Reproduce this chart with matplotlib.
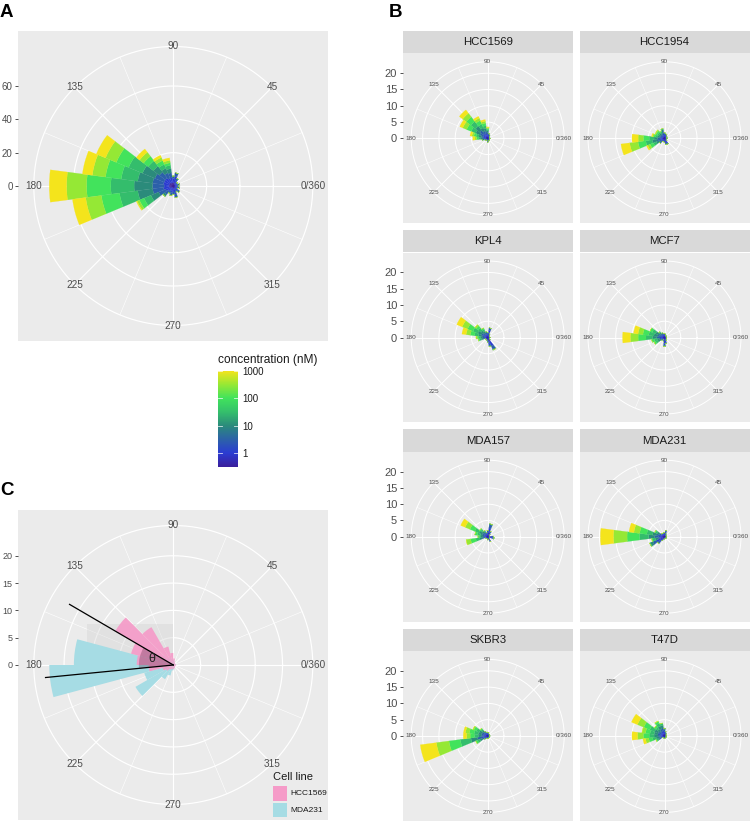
import numpy as np
import matplotlib
matplotlib.use('Agg')
import matplotlib.pyplot as plt
from matplotlib.colors import LinearSegmentedColormap, LogNorm
from matplotlib.patches import Rectangle
import matplotlib.transforms as mtransforms
from matplotlib.cm import ScalarMappable

plt.rcParams['font.family'] = ['Liberation Sans', 'DejaVu Sans']

W, H = 750, 821

# ---------------- data ----------------
CONC = [0.3, 1, 3, 10, 30, 100, 300, 1000]
BIN_CENTERS = list(range(0, 360, 15))            # panels A and B
C_BIN_CENTERS = [7.5 + 15 * k for k in range(24)]  # panel C
THETA_BREAKS = [0, 45, 90, 135, 180, 225, 270, 315]
THETA_LABELS = ['0/360', '45', '90', '135', '180', '225', '270', '315']

# Panel A: stacked counts per concentration (rows) per angle bin (cols)
A_COUNTS = [
    [1.0,1.2,1.0,1.0,1.5,2.5,2.0,2.0,2.0,2.5,2.5,2.5,2.5,2.5,2.0,1.5,1.0,1.5,1.5,2.0,1.2,1.5,1.0,1.2],
    [1.2,1.5,1.2,1.2,2.0,3.5,2.5,3.0,3.0,3.5,3.5,3.5,3.0,3.5,3.0,2.5,2.0,2.5,2.0,3.0,1.5,2.0,1.2,1.5],
    [0.8,1.3,0.8,0.8,1.5,2.0,1.5,3.0,3.5,4.5,6.0,6.5,7.0,6.5,4.5,2.5,1.5,1.5,1.5,2.0,1.3,1.5,0.8,1.3],
    [0,0,0,0,0,0,0,2.5,3.0,4.5,8.0,9.0,11.0,9.0,5.0,1.5,0.5,0.5,0,0,0,0,0,0],
    [0,0,0,0,0,0,0,2.0,2.5,4.0,9.0,10.0,14.0,11.0,4.5,0,0,0,0,0,0,0,0,0],
    [0,0,0,0,0,0,0,1.5,2.5,3.5,8.0,9.5,14.5,11.0,3.0,0,0,0,0,0,0,0,0,0],
    [0,0,0,0,0,0,0,1.5,2.0,3.0,7.0,8.0,12.0,9.5,1.5,0,0,0,0,0,0,0,0,0],
    [0,0,0,0,0,0,0,1.5,1.5,2.5,6.0,6.0,10.4,8.0,0.5,0,0,0,0,0,0,0,0,0],
]

B_NAMES = ['HCC1569', 'HCC1954', 'KPL4', 'MCF7', 'MDA157', 'MDA231', 'SKBR3', 'T47D']

HCC1569 = [
    [0.3,0.2,0.3,0.3,0.4,0.5,0.5,0.6,0.6,0.7,0.6,0.5,0.5,0.5,0.3,0.3,0.2,0.3,0.5,0.4,0.3,0.3,0.2,0.3],
    [0.3,0.2,0.2,0.3,0.5,0.6,0.7,0.8,0.8,1.0,0.8,0.7,0.6,0.6,0.4,0.3,0.2,0.3,0.4,0.4,0.2,0.3,0.2,0.2],
    [0.2,0.1,0.1,0.2,0.3,0.4,0.6,0.8,1.0,1.4,1.2,0.8,0.6,0.4,0.3,0.2,0.2,0.2,0.3,0.2,0.2,0.2,0.1,0.1],
    [0,0,0,0,0,0,0.5,0.9,1.1,1.6,1.4,0.8,0.6,0.3,0,0,0,0,0,0,0,0,0,0],
    [0,0,0,0,0,0,0.4,0.8,1.2,1.8,1.5,0.8,0.6,0,0,0,0,0,0,0,0,0,0,0],
    [0,0,0,0,0,0,0.3,0.8,1.2,1.8,1.5,0.7,0.5,0,0,0,0,0,0,0,0,0,0,0],
    [0,0,0,0,0,0,0.3,0.6,0.8,1.4,1.3,0.6,0.5,0,0,0,0,0,0,0,0,0,0,0],
    [0,0,0,0,0,0,0.2,0.5,0.6,1.3,1.0,0.6,0.7,0,0,0,0,0,0,0,0,0,0,0],
]
HCC1954 = [
    [0.4,0.3,0.3,0.4,0.5,0.5,0.5,0.6,0.4,0.4,0.4,0.4,0.5,0.6,0.5,0.5,0.4,0.4,0.5,0.7,0.8,0.4,0.3,0.3],
    [0.4,0.3,0.3,0.4,0.5,0.6,0.6,0.9,0.5,0.5,0.5,0.5,0.7,0.8,0.6,0.6,0.5,0.4,0.6,0.8,0.9,0.4,0.3,0.3],
    [0.2,0.2,0,0.2,0.3,0.3,0.4,0.8,0.5,0.5,0.5,0.6,0.9,1.0,0.7,0.5,0.3,0.2,0.3,0.4,0.3,0.2,0,0],
    [0,0,0,0,0,0,0.3,0.4,0.4,0.5,0.5,0.6,1.1,1.4,0.9,0.4,0,0,0,0,0,0,0,0],
    [0,0,0,0,0,0,0,0.3,0.4,0.5,0.5,0.6,1.5,2.0,1.0,0,0,0,0,0,0,0,0,0],
    [0,0,0,0,0,0,0,0,0.3,0.5,0.5,0.6,1.8,2.4,1.1,0,0,0,0,0,0,0,0,0],
    [0,0,0,0,0,0,0,0,0,0.4,0.3,0.4,1.6,2.6,0.8,0,0,0,0,0,0,0,0,0],
    [0,0,0,0,0,0,0,0,0,0,0,0.3,1.9,2.7,0.4,0,0,0,0,0,0,0,0,0],
]
KPL4 = [
    [0.3,0.3,0.3,0.3,0.4,1.0,0.5,0.4,0.4,0.4,0.5,0.5,0.4,0.4,0.3,0.3,0.3,0.4,0.5,0.9,1.3,0.4,0.3,0.3],
    [0.3,0.3,0.3,0.3,0.5,1.2,0.6,0.6,0.5,0.6,0.7,0.6,0.5,0.5,0.3,0.3,0.3,0.4,0.6,1.1,1.6,0.4,0.3,0.3],
    [0.2,0.1,0.1,0.2,0.3,0.8,0.4,0.5,0.6,0.8,0.9,0.8,0.6,0.5,0.2,0.2,0.2,0.2,0.3,0.6,1.0,0.2,0.1,0.1],
    [0,0,0,0,0,0,0,0.3,0.6,0.9,1.2,1.0,0.6,0.6,0,0,0,0,0,0.2,0.3,0,0,0],
    [0,0,0,0,0,0,0,0,0.6,1.0,1.6,1.2,0.6,0.6,0,0,0,0,0,0,0,0,0,0],
    [0,0,0,0,0,0,0,0,0.5,0.8,1.8,1.3,0.5,0.4,0,0,0,0,0,0,0,0,0,0],
    [0,0,0,0,0,0,0,0,0,0.5,1.8,1.3,0.4,0,0,0,0,0,0,0,0,0,0,0],
    [0,0,0,0,0,0,0,0,0,0,1.8,1.3,0,0,0,0,0,0,0,0,0,0,0,0],
]
MCF7 = [
    [0.3,0.3,0.3,0.3,0.3,0.4,0.4,0.4,0.4,0.4,0.5,0.5,0.6,0.4,0.4,0.3,0.3,0.4,0.8,0.6,0.4,0.3,0.3,0.3],
    [0.3,0.3,0.2,0.3,0.3,0.5,0.5,0.5,0.5,0.5,0.6,0.7,0.8,0.5,0.5,0.4,0.3,0.5,1.0,0.8,0.5,0.3,0.3,0.3],
    [0.1,0.1,0,0.1,0.2,0.2,0.3,0.3,0.4,0.5,0.8,0.9,1.0,0.6,0.6,0.3,0.2,0.3,0.7,0.5,0.2,0.1,0.1,0.1],
    [0,0,0,0,0,0,0,0,0.3,0.5,1.0,1.2,1.3,0.8,0.7,0.2,0,0,0.3,0,0,0,0,0],
    [0,0,0,0,0,0,0,0,0,0.4,1.2,1.6,2.0,0.9,0.7,0,0,0,0,0,0,0,0,0],
    [0,0,0,0,0,0,0,0,0,0,0.8,1.8,2.4,0.8,0.6,0,0,0,0,0,0,0,0,0],
    [0,0,0,0,0,0,0,0,0,0,0,1.5,2.4,0,0,0,0,0,0,0,0,0,0,0],
    [0,0,0,0,0,0,0,0,0,0,0,1.4,2.4,0,0,0,0,0,0,0,0,0,0,0],
]
MDA157 = [
    [0.6,0.3,0.3,0.4,0.6,1.2,0.6,0.4,0.4,0.4,0.5,0.4,0.4,0.4,0.3,0.3,0.3,0.3,0.4,0.4,0.6,0.3,0.3,0.7],
    [0.7,0.3,0.3,0.4,0.8,1.5,0.8,0.5,0.5,0.5,0.6,0.5,0.5,0.5,0.3,0.3,0.3,0.3,0.4,0.4,0.7,0.3,0.3,0.8],
    [0.4,0.1,0.1,0.2,0.4,1.0,0.5,0.4,0.5,0.6,0.8,0.6,0.6,0.7,0.2,0.1,0.1,0.1,0.2,0.2,0.4,0.1,0.1,0.5],
    [0,0,0,0,0,0.3,0,0,0.4,0.7,1.0,0.8,0.6,0.9,0,0,0,0,0,0,0,0,0,0],
    [0,0,0,0,0,0,0,0,0.3,0.6,1.4,0.9,0.5,1.2,0,0,0,0,0,0,0,0,0,0],
    [0,0,0,0,0,0,0,0,0,0.4,1.6,0.8,0.4,1.6,0,0,0,0,0,0,0,0,0,0],
    [0,0,0,0,0,0,0,0,0,0,1.6,0,0,1.4,0,0,0,0,0,0,0,0,0,0],
    [0,0,0,0,0,0,0,0,0,0,1.5,0,0,0,0,0,0,0,0,0,0,0,0,0],
]
MDA231 = [
    [0.3,0.3,0.3,0.3,0.4,0.7,0.5,0.4,0.4,0.4,0.4,0.6,0.8,0.5,1.2,0.8,0.5,0.3,0.3,0.3,0.3,0.3,0.3,0.3],
    [0.3,0.3,0.2,0.3,0.4,0.8,0.6,0.5,0.5,0.5,0.6,0.8,1.0,0.7,1.5,1.0,0.6,0.3,0.3,0.3,0.3,0.3,0.2,0.3],
    [0.1,0.1,0,0.1,0.2,0.4,0.3,0.3,0.3,0.4,0.7,1.0,1.3,0.8,1.2,0.7,0.3,0.2,0.1,0.1,0.1,0.1,0,0.1],
    [0,0,0,0,0,0,0,0,0,0,0.7,1.3,1.8,0.9,0.8,0.3,0,0,0,0,0,0,0,0],
    [0,0,0,0,0,0,0,0,0,0,0.6,1.8,2.8,0.8,0.3,0,0,0,0,0,0,0,0,0],
    [0,0,0,0,0,0,0,0,0,0,0.3,2.2,3.8,0.3,0,0,0,0,0,0,0,0,0,0],
    [0,0,0,0,0,0,0,0,0,0,0,1.8,4.2,0,0,0,0,0,0,0,0,0,0,0],
    [0,0,0,0,0,0,0,0,0,0,0,1.5,4.0,0,0,0,0,0,0,0,0,0,0,0],
]
SKBR3 = [
    [0.3,0.3,0.3,0.3,0.3,0.4,0.4,0.4,0.4,0.4,0.5,0.5,0.5,0.8,0.5,0.4,0.3,0.3,0.3,0.3,0.3,0.3,0.3,0.3],
    [0.3,0.3,0.2,0.3,0.3,0.5,0.5,0.5,0.5,0.5,0.6,0.6,0.6,1.0,0.6,0.5,0.3,0.3,0.3,0.3,0.3,0.3,0.2,0.3],
    [0.1,0.1,0,0.1,0.1,0.2,0.2,0.3,0.4,0.6,0.8,0.8,0.8,1.4,0.7,0.3,0.2,0.1,0.1,0.1,0.1,0.1,0,0.1],
    [0,0,0,0,0,0,0,0,0.3,0.6,0.9,1.0,1.0,2.0,0.8,0.2,0,0,0,0,0,0,0,0],
    [0,0,0,0,0,0,0,0,0,0.5,1.0,1.3,1.2,3.3,0.8,0,0,0,0,0,0,0,0,0],
    [0,0,0,0,0,0,0,0,0,0.4,0.8,1.5,1.3,3.5,0.6,0,0,0,0,0,0,0,0,0],
    [0,0,0,0,0,0,0,0,0,0,0.4,1.2,1.1,3.9,0,0,0,0,0,0,0,0,0,0],
    [0,0,0,0,0,0,0,0,0,0,0,0.6,1.0,5.0,0,0,0,0,0,0,0,0,0,0],
]
T47D = [
    [0.3,0.3,0.3,0.3,0.4,0.5,0.6,0.7,0.6,0.5,0.5,0.5,0.5,0.4,0.5,0.3,0.3,0.3,0.3,0.3,0.3,0.3,0.3,0.3],
    [0.3,0.3,0.2,0.3,0.4,0.6,0.8,0.9,0.8,0.6,0.7,0.7,0.6,0.6,0.6,0.3,0.3,0.3,0.3,0.3,0.3,0.3,0.2,0.3],
    [0.1,0.1,0,0.1,0.2,0.3,0.6,0.9,0.9,0.7,0.9,0.9,0.9,0.7,0.6,0.2,0.1,0.1,0.1,0.1,0.1,0.1,0,0.1],
    [0,0,0,0,0,0,0.4,0.8,1.0,0.8,1.2,1.1,1.2,0.9,0.5,0,0,0,0,0,0,0,0,0],
    [0,0,0,0,0,0,0,0.5,0.9,0.8,1.6,1.3,1.5,1.1,0.4,0,0,0,0,0,0,0,0,0],
    [0,0,0,0,0,0,0,0.2,0.6,0.6,2.0,1.4,1.8,1.2,0.3,0,0,0,0,0,0,0,0,0],
    [0,0,0,0,0,0,0,0,0.2,0,2.1,1.1,1.8,1.0,0,0,0,0,0,0,0,0,0,0],
    [0,0,0,0,0,0,0,0,0,0,2.0,0,1.7,0.8,0,0,0,0,0,0,0,0,0,0],
]
B_DATA = [HCC1569, HCC1954, KPL4, MCF7, MDA157, MDA231, SKBR3, T47D]

# Panel C: counts per 15-degree bin (edges at multiples of 15)
C_HCC1569 = [0.5,0.4,0.4,0.5,0.7,1.2,2.2,3.5,8.0,12.3,8.0,6.7,4.5,2.0,1.5,1.0,0.8,0.8,0.7,0.6,0.5,0.4,0.4,0.5]
C_MDA231 = [0.5,0.3,0.3,0.4,0.5,0.8,1.0,1.2,1.5,2.5,6.0,18.2,22.7,5.5,8.0,3.0,2.0,1.0,0.8,0.5,0.4,0.3,0.3,0.4]
C_LINE_ANGLES = [149.7, 185.6]
C_LINE_LENGTHS = [22.0, 23.5]

# ---------------- style ----------------
cmap = LinearSegmentedColormap.from_list('conc', [
    (0.0, '#3B1E9A'), (0.148, '#2B3CD2'), (0.29, '#2C62A8'), (0.432, '#2B8B7B'),
    (0.57, '#34BE6C'), (0.716, '#41E35C'), (0.86, '#98E834'), (1.0, '#F4E41C')])
norm = LogNorm(vmin=0.3, vmax=1000)
PANEL_BG = '#EBEBEB'
TXT = '#4D4D4D'

fig = plt.figure(figsize=(W / 100, H / 100), dpi=100)


def fbox(x0, y0, x1, y1):
    return [x0 / W, 1 - y1 / H, (x1 - x0) / W, (y1 - y0) / H]


def rose_frame(x0, y0, size, rmax, rbreaks, show_y, ylab_fs, theta_fs, lw_major, lw_minor):
    R = rmax * 1.25
    bg = fig.add_axes(fbox(x0, y0, x0 + size, y0 + size))
    bg.set_facecolor(PANEL_BG)
    bg.set_xlim(-R, R)
    bg.set_ylim(-R, R)
    for s in bg.spines.values():
        s.set_visible(False)
    bg.set_xticks([])
    if show_y:
        bg.set_yticks(rbreaks)
        bg.set_yticklabels([str(v) for v in rbreaks])
        bg.tick_params(axis='y', length=2.5, width=0.6, color='#333333',
                       labelcolor=TXT, labelsize=ylab_fs, pad=1.5)
    else:
        bg.set_yticks([])
    ax = fig.add_axes(fbox(x0, y0, x0 + size, y0 + size), projection='polar')
    ax.patch.set_visible(False)
    ax.set_ylim(0, R)
    ax.grid(False)
    ax.set_xticks([])
    ax.set_yticks([])
    ax.spines['polar'].set_visible(False)
    outer = rmax * 1.125
    th = np.linspace(0, 2 * np.pi, 721)
    for r in rbreaks:
        if r > 0:
            ax.plot(th, np.full_like(th, r), color='white', lw=lw_major, zorder=1)
    ax.plot(th, np.full_like(th, outer), color='white', lw=lw_major, zorder=1)
    for a in THETA_BREAKS:
        t = np.deg2rad(a)
        ax.plot([t, t], [0, outer], color='white', lw=lw_major, zorder=1)
        t2 = np.deg2rad(a + 22.5)
        ax.plot([t2, t2], [0, outer], color='white', lw=lw_minor, zorder=1)
    for a, lab in zip(THETA_BREAKS, THETA_LABELS):
        ax.text(np.deg2rad(a), outer, lab, ha='center', va='center',
                fontsize=theta_fs, color=TXT, clip_on=False, zorder=5)
    return ax, bg


def stacked_rose(ax, counts):
    bottom = np.zeros(len(BIN_CENTERS))
    width = np.deg2rad(15)
    theta = np.deg2rad(BIN_CENTERS)
    for c, row in zip(CONC, counts):
        vals = np.array(row, dtype=float)
        col = cmap(norm(c))
        ax.bar(theta, vals, width=width, bottom=bottom, color=col,
               edgecolor=col, linewidth=0.15, zorder=3)
        bottom = bottom + vals


# ---------------- Panel A ----------------
a_max = float(np.max(np.sum(np.array(A_COUNTS), axis=0)))
axA, bgA = rose_frame(18.3, 31, 310, a_max, [0, 20, 40, 60], True, 7, 7.2, 0.85, 0.4)
stacked_rose(axA, A_COUNTS)

# colorbar
cax = fig.add_axes(fbox(218.3, 370.7, 238.3, 467.3))
sm = ScalarMappable(norm=norm, cmap=cmap)
cb = fig.colorbar(sm, cax=cax, ticks=[1, 10, 100, 1000])
cb.outline.set_visible(False)
cb.ax.set_yticklabels(['1', '10', '100', '1000'])
cb.ax.tick_params(length=0, labelsize=7, pad=3, labelcolor='#1A1A1A')
cb.ax.minorticks_off()
tr = mtransforms.blended_transform_factory(cax.transAxes, cax.transData)
for v in [1, 10, 100, 1000]:
    cax.plot([0, 0.2], [v, v], color='white', lw=0.6, transform=tr, alpha=0.8)
    cax.plot([0.8, 1.0], [v, v], color='white', lw=0.6, transform=tr, alpha=0.8)

# ---------------- Panel B ----------------
b_max = max(float(np.max(np.sum(np.array(d), axis=0))) for d in B_DATA)
col_x = [402.7, 579.5]
row_y = [31, 230.2, 429.4, 628.6]
for i, (name, data) in enumerate(zip(B_NAMES, B_DATA)):
    r_i, c_i = divmod(i, 2)
    x0 = col_x[c_i]
    ys = row_y[r_i]
    sax = fig.add_axes(fbox(x0, ys, x0 + 170, ys + 22.3))
    sax.set_facecolor('#D9D9D9')
    sax.set_xticks([]); sax.set_yticks([])
    for s in sax.spines.values():
        s.set_visible(False)
    sax.text(0.5, 0.5, name, ha='center', va='center', fontsize=8.2,
             color='#1A1A1A', transform=sax.transAxes)
    ax, bg = rose_frame(x0, ys + 22.3, 170, b_max, [0, 5, 10, 15, 20], c_i == 0,
                        8, 4.6, 0.7, 0.35)
    stacked_rose(ax, data)

# ---------------- Panel C ----------------
c_max = max(max(C_HCC1569), max(C_MDA231))
axC, bgC = rose_frame(18.3, 510, 310, c_max, [0, 5, 10, 15, 20], True, 6.5, 7.2, 0.85, 0.4)
# translucent grey rectangle
axC.add_patch(Rectangle((-15.8, 0), 15.8, 7.5, transform=bgC.transData,
                        facecolor='#CFCFCF', alpha=0.35, edgecolor='none', zorder=2))
thC = np.deg2rad(C_BIN_CENTERS)
wC = np.deg2rad(15)
axC.bar(thC, C_MDA231, width=wC, color='#A6DCE4', edgecolor='none', linewidth=0, zorder=3)
axC.bar(thC, C_HCC1569, width=wC, color='#F59BC8', edgecolor='none', linewidth=0,
        alpha=0.92, zorder=4)
# theta wedge
t_lo, t_hi = C_LINE_ANGLES
axC.bar(np.deg2rad((t_lo + t_hi) / 2), 6.3, width=np.deg2rad(t_hi - t_lo),
        color='#4A1A35', alpha=0.28, edgecolor='none', zorder=5)
for a, L in zip(C_LINE_ANGLES, C_LINE_LENGTHS):
    axC.plot([np.deg2rad(a), np.deg2rad(a)], [0, L], color='black', lw=0.9, zorder=6)
axC.text(np.deg2rad(165), 4.1, 'θ', ha='center', va='center', fontsize=9,
         color='#222222', zorder=7)

# ---------------- overlay: panel letters, legend ----------------
ov = fig.add_axes([0, 0, 1, 1], zorder=20)
ov.set_xlim(0, W)
ov.set_ylim(H, 0)
ov.axis('off')
ov.patch.set_visible(False)
for lab, x, y in [('A', 0, 4), ('B', 389, 4), ('C', 0, 482)]:
    ov.text(x, y, lab, ha='left', va='top', fontsize=13.5, fontweight='bold', color='black')
ov.text(218.3, 360.0, 'concentration (nM)', ha='left', va='center', fontsize=8.6, color='#1A1A1A')
ov.text(272.7, 777, 'Cell line', ha='left', va='center', fontsize=8, color='#1A1A1A')
ov.add_patch(Rectangle((272.7, 786), 14.6, 14.6, facecolor='#F59BC8', edgecolor='none'))
ov.add_patch(Rectangle((272.7, 802.7), 14.6, 14.6, facecolor='#A6DCE4', edgecolor='none'))
ov.text(290, 793.3, 'HCC1569', ha='left', va='center', fontsize=6, color='#1A1A1A')
ov.text(290, 810, 'MDA231', ha='left', va='center', fontsize=6, color='#1A1A1A')

fig.savefig('out.png', dpi=100)
